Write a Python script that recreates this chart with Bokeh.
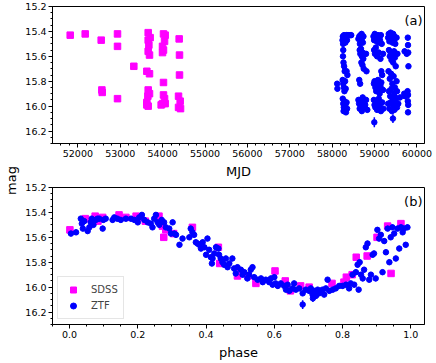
import math
from bokeh.plotting import figure
from bokeh.models import (Range1d, SingleIntervalTicker, Label, Legend,
                          LegendItem, ColumnDataSource, PrintfTickFormatter)
from bokeh.layouts import row, column
from bokeh.embed import file_html
from bokeh.resources import INLINE

FONT = "DejaVu Sans"
MAGENTA = "#ff00ff"
BLUE = "#0000ff"
ZTF_TYPICAL_ERR = 0.022

# ---------------- panel (a): magnitude vs MJD ----------------
sdss_mjd = [51819, 52173, 52550, 52566, 52574, 52935, 52935, 52935, 53320,
            53659, 53659, 53705, 53675, 53659, 53690, 53627, 53690, 53659, 53690,
            53651, 53627, 53659, 53627,
            54020, 54060, 54045, 53997, 54020, 53997, 54020, 54020, 54045, 53997,
            54060, 53965,
            54390, 54398, 54398, 54375, 54414, 54375, 54422]
sdss_mag = [15.43, 15.42, 15.47, 15.87, 15.89, 15.42, 15.52, 15.94, 15.68,
            15.41, 15.47, 15.45, 15.51, 15.56, 15.59, 15.72, 15.74, 15.87, 15.90,
            15.92, 15.97, 16.00, 15.99,
            15.42, 15.43, 15.48, 15.52, 15.55, 15.57, 15.81, 15.91, 15.94, 15.98,
            15.98, 15.99,
            15.46, 15.59, 15.75, 15.92, 15.96, 16.01, 16.02]

ztf_mjd = [
    # season 2018
    58118, 58124, 58245, 58252, 58258, 58266, 58272, 58280, 58290, 58300,
    58312, 58325, 58338, 58350, 58372, 58395, 58425, 58450, 58262, 58255,
    58268, 58282, 58296, 58340, 58360, 58248, 58262, 58276, 58290, 58305,
    58320, 58250, 58262, 58275, 58288, 58300, 58312, 58326, 58340, 58352,
    58270,
    # season 2019
    58620, 58640, 58655, 58668, 58680, 58695, 58710, 58725, 58738, 58650,
    58665, 58680, 58700, 58720, 58735, 58690, 58715, 58745, 58800, 58810,
    58640, 58660, 58620, 58635, 58650, 58665, 58680, 58700, 58720, 58740,
    58760, 58780, 58800, 58830,
    # season 2020
    58975, 58990, 59005, 59020, 59035, 59050, 59065, 59080, 59100, 59115,
    59130, 59150, 59170, 58990, 59010, 59030, 59060, 59100, 59140, 59200,
    59160, 59180, 58985, 59000, 59020, 59040, 59060, 59080, 59100, 59120,
    59140, 59160, 59200, 58985, 59000, 59020, 59040, 59060, 59080, 59100,
    59120, 59150, 59180, 59210,
    # season 2021
    59320, 59335, 59350, 59365, 59380, 59395, 59410, 59425, 59440, 59455,
    59470, 59490, 59520, 59340, 59360, 59380, 59400, 59420, 59440, 59460,
    59480, 59500, 59540, 59330, 59360, 59390, 59420, 59450, 59480, 59520,
    59340, 59370, 59400, 59430, 59460, 59490, 59530, 59320, 59350, 59380,
    59410, 59440, 59470, 59500, 59530, 59560, 59600,
    # season 2022
    59710, 59760, 59785, 59790, 59795, 59800, 59700, 59720, 59780, 59790,
    59785, 59795, 59790]
ztf_mag = [
    15.82, 15.86, 15.47, 15.44, 15.50, 15.45, 15.48, 15.43, 15.46, 15.44,
    15.49, 15.45, 15.43, 15.47, 15.43, 15.43, 15.43, 15.43, 15.55, 15.60,
    15.65, 15.68, 15.72, 15.72, 15.75, 15.79, 15.82, 15.85, 15.88, 15.80,
    15.86, 15.94, 15.98, 16.01, 15.96, 16.03, 15.99, 16.05, 15.97, 16.02,
    16.04,
    15.46, 15.44, 15.50, 15.43, 15.47, 15.42, 15.45, 15.49, 15.44, 15.55,
    15.58, 15.54, 15.60, 15.57, 15.62, 15.65, 15.67, 15.70, 15.58, 15.72,
    15.79, 15.82, 15.95, 15.98, 16.02, 15.96, 16.00, 16.04, 15.93, 15.97,
    16.01, 15.99, 15.95, 16.03,
    15.44, 15.47, 15.42, 15.46, 15.43, 15.48, 15.45, 15.43, 15.49, 15.44,
    15.47, 15.43, 15.50, 15.55, 15.58, 15.53, 15.60, 15.57, 15.62, 15.58,
    15.72, 15.75, 15.82, 15.80, 15.85, 15.88, 15.83, 15.79, 15.86, 15.90,
    15.84, 15.81, 15.87, 15.95, 15.99, 16.01, 15.96, 16.03, 15.98, 15.94,
    16.00, 16.04, 15.97, 16.02,
    15.45, 15.42, 15.48, 15.44, 15.41, 15.46, 15.43, 15.49, 15.42, 15.47,
    15.44, 15.50, 15.45, 15.55, 15.60, 15.57, 15.63, 15.58, 15.65, 15.56,
    15.61, 15.68, 15.58, 15.72, 15.78, 15.74, 15.82, 15.76, 15.85, 15.80,
    15.88, 15.92, 15.86, 15.95, 15.90, 15.93, 15.88, 15.98, 16.02, 15.97,
    16.04, 15.99, 16.03, 15.96, 16.01, 15.98, 15.93,
    15.56, 15.58, 15.45, 15.51, 15.57, 15.68, 15.90, 15.92, 15.88, 15.91,
    15.96, 15.99, 16.05]
# ZTF points with larger error bars
ztf_big_mjd = [58995, 59434]
ztf_big_mag = [16.13, 16.10]
ztf_big_err = [0.040, 0.035]

# ---------------- panel (b): magnitude vs phase ----------------
sdss_phase = [0.001, 0.046, 0.075, 0.083, 0.097, 0.145, 0.165, 0.195, 0.200,
              0.222, 0.262, 0.272, 0.276, 0.282, 0.305, 0.360, 0.436, 0.440,
              0.492, 0.497, 0.523, 0.546, 0.602, 0.632, 0.647, 0.677, 0.702,
              0.769, 0.804, 0.811, 0.828, 0.840, 0.872, 0.901, 0.932, 0.942,
              0.971]
sdss_pmag = [15.54, 15.45, 15.43, 15.47, 15.44, 15.42, 15.44, 15.43, 15.44,
             15.47, 15.43, 15.51, 15.60, 15.54, 15.57, 15.52, 15.68, 15.81,
             15.91, 15.88, 15.91, 15.97, 15.87, 15.95, 16.03, 15.99, 16.00,
             15.97, 15.96, 15.92, 15.90, 15.76, 15.75, 15.60, 15.51, 15.89,
             15.49]

ztf_phase = [
    0.004, 0.019, 0.033, 0.036, 0.039, 0.043, 0.053, 0.058, 0.062, 0.065,
    0.070, 0.077, 0.082, 0.087, 0.097, 0.099, 0.106, 0.126, 0.131, 0.140,
    0.150, 0.165, 0.180, 0.190, 0.200, 0.204, 0.212, 0.219, 0.229, 0.238,
    0.243, 0.248, 0.253, 0.258, 0.263, 0.270, 0.277, 0.282, 0.292, 0.297,
    0.302, 0.307, 0.312, 0.322, 0.331, 0.351, 0.355, 0.360, 0.365, 0.370,
    0.375, 0.380, 0.385, 0.390, 0.395, 0.400, 0.404, 0.409, 0.414, 0.417,
    0.419, 0.424, 0.429, 0.436, 0.438, 0.443, 0.448, 0.453, 0.458, 0.463,
    0.468, 0.477, 0.482, 0.487, 0.492, 0.502, 0.507, 0.512, 0.521, 0.526,
    0.531, 0.536, 0.541, 0.551, 0.561, 0.566, 0.575, 0.585, 0.590, 0.595,
    0.600, 0.604, 0.610, 0.619, 0.629, 0.634, 0.639, 0.644, 0.653, 0.658,
    0.663, 0.673, 0.683, 0.692, 0.702, 0.707, 0.712, 0.717, 0.722, 0.727,
    0.731, 0.741, 0.746, 0.751, 0.756, 0.761, 0.771, 0.780, 0.790, 0.800,
    0.810, 0.819, 0.824, 0.829, 0.834, 0.839, 0.844, 0.847, 0.850, 0.854,
    0.859, 0.863, 0.868, 0.873, 0.878, 0.883, 0.888, 0.892, 0.897, 0.902,
    0.907, 0.912, 0.917, 0.922, 0.927, 0.932, 0.937, 0.941, 0.946, 0.951,
    0.956, 0.961, 0.966, 0.971, 0.976, 0.980, 0.985, 0.990]
ztf_pmag = [
    15.57, 15.56, 15.45, 15.49, 15.53, 15.47, 15.55, 15.52, 15.48, 15.45,
    15.50, 15.46, 15.45, 15.45, 15.53, 15.46, 15.45, 15.46, 15.44, 15.45,
    15.46, 15.45, 15.45, 15.46, 15.48, 15.44, 15.42, 15.46, 15.48, 15.49,
    15.52, 15.45, 15.42, 15.48, 15.50, 15.46, 15.48, 15.52, 15.53, 15.57,
    15.48, 15.57, 15.58, 15.66, 15.61, 15.60, 15.53, 15.56, 15.58, 15.64,
    15.65, 15.66, 15.69, 15.64, 15.68, 15.74, 15.61, 15.70, 15.76, 15.81,
    15.77, 15.73, 15.68, 15.69, 15.74, 15.77, 15.80, 15.82, 15.77, 15.84,
    15.81, 15.77, 15.85, 15.89, 15.84, 15.86, 15.90, 15.88, 15.93, 15.90,
    15.86, 15.84, 15.92, 15.94, 15.93, 15.96, 15.94, 15.96, 15.93, 15.98,
    15.92, 15.97, 15.99, 15.97, 15.99, 16.02, 15.98, 16.03, 16.01, 15.97,
    16.02, 16.01, 16.05, 16.02, 16.03, 16.01, 16.06, 16.03, 16.07, 16.02,
    16.05, 16.02, 16.06, 16.01, 15.94, 16.03, 16.02, 16.01, 15.99, 15.99,
    15.98, 16.01, 15.97, 15.90, 15.98, 15.88, 15.82, 16.02, 15.80, 15.90,
    15.93, 15.86, 15.68, 15.65, 15.94, 15.90, 15.74, 15.73, 15.93, 15.54,
    15.61, 15.58, 15.88, 15.63, 15.72, 15.53, 15.80, 15.60, 15.52, 15.57,
    15.77, 15.53, 15.69, 15.52, 15.56, 15.53, 15.66, 15.52]
ztf_big_phase = [0.683, 0.713]
ztf_big_pmag = [16.14, 16.09]
ztf_big_perr = [0.035, 0.030]

x_ticks_mjd = 1000
x_ticks_phase = 0.2
y_ticks_mag = 0.2


def errsrc(x, y, e):
    if isinstance(e, (int, float)):
        e = [e] * len(x)
    return ColumnDataSource(dict(x=x, y=y,
                                 lo=[a - b for a, b in zip(y, e)],
                                 hi=[a + b for a, b in zip(y, e)]))


def style(p, xint, xminor, xfmt):
    p.xgrid.visible = False
    p.ygrid.visible = False
    p.outline_line_color = "black"
    p.outline_line_width = 1
    p.outline_line_alpha = 1
    p.xaxis.ticker = SingleIntervalTicker(interval=xint, num_minor_ticks=xminor)
    p.yaxis.ticker = SingleIntervalTicker(interval=y_ticks_mag, num_minor_ticks=4)
    p.xaxis.formatter = PrintfTickFormatter(format=xfmt)
    p.yaxis.formatter = PrintfTickFormatter(format="%.1f")
    for ax in (p.xaxis[0], p.yaxis[0]):
        ax.axis_line_color = "black"
        ax.major_tick_line_color = "black"
        ax.minor_tick_line_color = "black"
        ax.major_tick_in = 0
        ax.major_tick_out = 4
        ax.minor_tick_in = 0
        ax.minor_tick_out = 2
        ax.major_label_text_font = FONT
        ax.major_label_text_font_size = "9.5px"
        ax.major_label_text_color = "black"
        ax.major_label_standoff = 2
        ax.axis_label_text_font = FONT
        ax.axis_label_text_font_size = "13px"
        ax.axis_label_text_font_style = "normal"
        ax.axis_label_text_color = "black"
        ax.axis_label_standoff = 4


def draw(p, sx, sy, zx, zy, bx, by, be):
    z = errsrc(zx, zy, ZTF_TYPICAL_ERR)
    zb = errsrc(bx, by, be)
    s = p.scatter(sx, sy, marker="square", size=6.5, fill_color=MAGENTA,
                  line_color=MAGENTA)
    for src in (z, zb):
        p.segment(x0="x", y0="lo", x1="x", y1="hi", source=src,
                  line_color=BLUE, line_width=1.5)
    c = p.scatter("x", "y", source=z, marker="circle", size=5.5,
                  fill_color=BLUE, line_color=BLUE)
    p.scatter("x", "y", source=zb, marker="circle", size=5.5,
              fill_color=BLUE, line_color=BLUE)
    return s, c


FRAME_W = 372
FRAME_H = 138


def corner_label(p, text):
    p.add_layout(Label(x=FRAME_W - 2, y=FRAME_H - 15, x_units="screen",
                       y_units="screen", text=text, text_align="right",
                       text_baseline="middle", text_font=FONT,
                       text_font_size="13px", text_color="black"))


common = dict(output_backend="svg", toolbar_location=None,
              min_border_left=32, min_border_right=12)

top = figure(width=416, height=181, x_range=Range1d(51401, 60179),
             y_range=Range1d(16.3, 15.2), min_border_top=6,
             min_border_bottom=37, **common)
style(top, x_ticks_mjd, 5, "%d")
top.xaxis.axis_label = "MJD"
draw(top, sdss_mjd, sdss_mag, ztf_mjd, ztf_mag, ztf_big_mjd, ztf_big_mag,
     ztf_big_err)
corner_label(top, "(a)")

bot = figure(width=416, height=181, x_range=Range1d(-0.05, 1.04),
             y_range=Range1d(16.3, 15.2), min_border_top=6,
             min_border_bottom=37, **common)
style(bot, x_ticks_phase, 4, "%.1f")
bot.xaxis.axis_label = "phase"
s_r, z_r = draw(bot, sdss_phase, sdss_pmag, ztf_phase, ztf_pmag,
                ztf_big_phase, ztf_big_pmag, ztf_big_perr)
corner_label(bot, "(b)")

legend = Legend(items=[LegendItem(label="SDSS", renderers=[s_r]),
                       LegendItem(label="ZTF", renderers=[z_r])],
                location=(5, 5), padding=5, spacing=1, margin=0,
                glyph_width=20, glyph_height=15, label_height=15,
                label_standoff=8, label_text_font=FONT,
                label_text_font_size="10px", border_line_color="#cccccc",
                border_line_width=1, background_fill_alpha=0.8)
bot.add_layout(legend)

lab = figure(width=20, height=362, x_range=Range1d(0, 1), y_range=Range1d(0, 1),
             x_axis_type=None, y_axis_type=None, output_backend="svg",
             toolbar_location=None, min_border=0)
lab.outline_line_color = None
lab.grid.visible = False
lab.add_layout(Label(x=11, y=182, x_units="screen", y_units="screen",
                     text="mag", angle=math.pi / 2, text_align="center",
                     text_baseline="middle", text_font=FONT,
                     text_font_size="13px", text_color="black"))

layout = row(lab, column(top, bot))
open("out.html", "w").write(file_html(layout, INLINE))
